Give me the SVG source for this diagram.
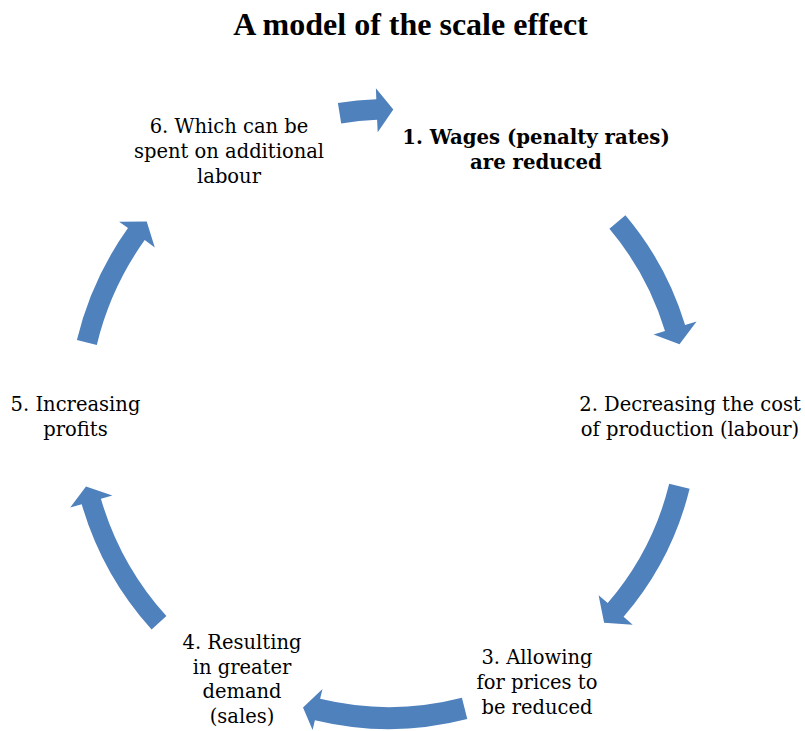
<svg xmlns="http://www.w3.org/2000/svg" width="805" height="731" viewBox="0 0 805 731">
  <style>
    .title { font-family: "Liberation Serif", "Times New Roman", serif; font-weight: bold; font-size: 32px; fill: #000; }
    .lbl { font-family: "DejaVu Serif", "Liberation Serif", serif; font-size: 19.5px; fill: #000; text-anchor: middle; }
    .lbl.b { font-weight: bold; font-size: 19.7px; }
    .arrow { fill: #4F81BD; stroke: none; }
  </style>
  <rect width="805" height="731" fill="#FFFFFF"/>

  <text class="title" x="410.5" y="35" text-anchor="middle">A model of the scale effect</text>

  <!-- curved cycle arrows, all on a ring centred near (389,415) -->
  <g id="connectors">
    <path id="arrow-6-1" class="arrow" d="M337.9,103.1 A316,316 0 0 1 376.3,99.3 L375.9,88.3 L393.3,109.5 L377.7,132.2 L377.1,119.7 A295.5,295.5 0 0 0 341.2,123.4 Z"/>
    <path id="arrow-1-2" class="arrow" d="M625.4,215.2 A309.5,309.5 0 0 1 685.1,325.0 L696.6,321.5 L679.5,344.2 L653.6,334.6 L665.0,331.1 A288.5,288.5 0 0 0 609.4,228.8 Z"/>
    <path id="arrow-2-3" class="arrow" d="M689.6,488.8 A309.5,309.5 0 0 1 623.6,616.8 L632.7,624.7 L604.1,622.7 L598.6,595.3 L607.7,603.1 A288.5,288.5 0 0 0 669.2,483.8 Z"/>
    <path id="arrow-3-4" class="arrow" d="M467.3,719.1 A315,315 0 0 1 314.9,720.2 L312.6,729.9 L303,707.5 L322.5,689.1 L320.1,698.8 A293,293 0 0 0 461.9,697.8 Z"/>
    <path id="arrow-4-5" class="arrow" d="M151.6,629.5 A320,320 0 0 1 81.7,504.3 L70.2,507.6 L86,486.5 L112.4,495.4 L100.9,498.7 A300,300 0 0 0 166.4,616.1 Z"/>
    <path id="arrow-5-6" class="arrow" d="M76.9,340.1 A321,321 0 0 1 128.0,228.1 L119.1,221.7 L146.7,221.6 L154.8,247.4 L144.7,240.1 A300.5,300.5 0 0 0 96.8,344.9 Z"/>
  </g>

  <g id="node-1">
    <text class="lbl b" x="536" y="143.5">1. Wages (penalty rates)</text>
    <text class="lbl b" x="536" y="168.5">are reduced</text>
  </g>
  <g id="node-2">
    <text class="lbl" x="690" y="410.5">2. Decreasing the cost</text>
    <text class="lbl" x="690" y="435.5">of production (labour)</text>
  </g>
  <g id="node-3">
    <text class="lbl" x="537" y="664">3. Allowing</text>
    <text class="lbl" x="537" y="689">for prices to</text>
    <text class="lbl" x="537" y="713.5">be reduced</text>
  </g>
  <g id="node-4">
    <text class="lbl" x="242" y="649">4. Resulting</text>
    <text class="lbl" x="242" y="673.5">in greater</text>
    <text class="lbl" x="242" y="698">demand</text>
    <text class="lbl" x="242" y="722.5">(sales)</text>
  </g>
  <g id="node-5">
    <text class="lbl" x="75.5" y="410.5">5. Increasing</text>
    <text class="lbl" x="75.5" y="435.5">profits</text>
  </g>
  <g id="node-6">
    <text class="lbl" x="229" y="132.5">6. Which can be</text>
    <text class="lbl" x="229" y="157.5">spent on additional</text>
    <text class="lbl" x="229" y="182.5">labour</text>
  </g>
</svg>
